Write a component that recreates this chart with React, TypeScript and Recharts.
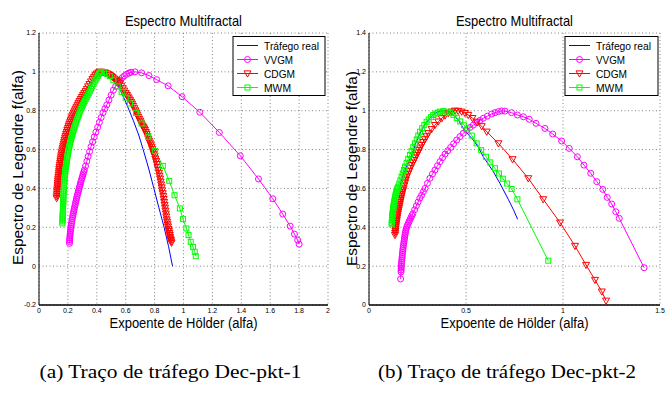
import React from 'react';
import { LineChart, Line, XAxis, YAxis, CartesianGrid } from 'recharts';

type P = [number, number];

// ---------- Panel (a): Dec-pkt-1 ----------
const aReal: P[] = [
  [0.155, 0.4], [0.162, 0.45], [0.17, 0.5], [0.18, 0.55], [0.19, 0.59], [0.2, 0.63], [0.213, 0.67], [0.227, 0.71],
  [0.243, 0.75], [0.262, 0.79], [0.283, 0.83], [0.308, 0.87], [0.335, 0.9], [0.36, 0.94], [0.39, 0.975], [0.42, 0.995],
  [0.44, 1.0], [0.47, 0.995], [0.5, 0.978], [0.526, 0.957], [0.56, 0.91], [0.595, 0.854], [0.625, 0.8], [0.652, 0.751],
  [0.69, 0.675], [0.721, 0.6], [0.76, 0.5], [0.795, 0.4], [0.83, 0.3], [0.866, 0.2], [0.897, 0.1], [0.924, 0.0],
];
const aVVGM: P[] = [
  [0.211, 0.117], [0.2115, 0.126], [0.212, 0.135], [0.213, 0.145], [0.214, 0.155], [0.2155, 0.165], [0.217, 0.175],
  [0.2185, 0.185], [0.22, 0.195], [0.222, 0.205], [0.224, 0.215], [0.226, 0.225], [0.228, 0.235], [0.2305, 0.245],
  [0.233, 0.255], [0.2355, 0.265], [0.238, 0.275], [0.241, 0.285], [0.244, 0.295], [0.247, 0.305], [0.25, 0.315],
  [0.253, 0.325], [0.256, 0.335], [0.259, 0.345], [0.262, 0.355], [0.2655, 0.365], [0.269, 0.375], [0.2725, 0.385],
  [0.276, 0.395], [0.2795, 0.405], [0.283, 0.415], [0.2865, 0.425], [0.29, 0.435], [0.294, 0.445], [0.298, 0.455],
  [0.302, 0.465], [0.306, 0.475], [0.31, 0.485], [0.314, 0.495], [0.322, 0.515],
  [0.331, 0.54], [0.34, 0.565], [0.35, 0.59], [0.36, 0.615], [0.371, 0.64], [0.382, 0.665], [0.394, 0.69],
  [0.406, 0.715], [0.418, 0.74], [0.43, 0.765], [0.443, 0.79], [0.456, 0.81], [0.469, 0.83], [0.484, 0.855],
  [0.499, 0.88], [0.515, 0.906], [0.53, 0.925], [0.545, 0.942], [0.561, 0.957], [0.576, 0.97], [0.591, 0.98],
  [0.607, 0.988], [0.622, 0.994], [0.637, 0.998], [0.664, 1.0], [0.71, 0.995], [0.761, 0.981], [0.814, 0.96],
  [0.894, 0.928], [0.99, 0.872], [1.113, 0.792], [1.248, 0.688], [1.393, 0.568], [1.519, 0.449], [1.618, 0.347],
  [1.687, 0.268], [1.738, 0.206], [1.768, 0.165], [1.79, 0.134], [1.8, 0.113],
];
const aCDGM: P[] = [
  [0.122, 0.35], [0.123, 0.36], [0.124, 0.37], [0.125, 0.38], [0.126, 0.39], [0.127, 0.4],
  [0.128, 0.41], [0.129, 0.42], [0.13, 0.43], [0.131, 0.44], [0.133, 0.45], [0.134, 0.46], [0.136, 0.47], [0.137, 0.48],
  [0.139, 0.49], [0.14, 0.5], [0.142, 0.51], [0.144, 0.52], [0.146, 0.53], [0.148, 0.54], [0.15, 0.55], [0.152, 0.56],
  [0.154, 0.57], [0.157, 0.58], [0.159, 0.59], [0.162, 0.6], [0.165, 0.61], [0.168, 0.62], [0.171, 0.63], [0.174, 0.64],
  [0.177, 0.65], [0.181, 0.66], [0.184, 0.67], [0.188, 0.68], [0.192, 0.69], [0.196, 0.7], [0.2, 0.71], [0.205, 0.72],
  [0.209, 0.73], [0.214, 0.74], [0.219, 0.75], [0.224, 0.76], [0.229, 0.77], [0.235, 0.78], [0.241, 0.79], [0.247, 0.8],
  [0.253, 0.81], [0.26, 0.82], [0.267, 0.83], [0.274, 0.84], [0.281, 0.85], [0.289, 0.86], [0.297, 0.87], [0.305, 0.88],
  [0.313, 0.89], [0.322, 0.9], [0.331, 0.912], [0.34, 0.925], [0.35, 0.937], [0.36, 0.95], [0.37, 0.962], [0.38, 0.972],
  [0.39, 0.982], [0.4, 0.99], [0.41, 0.996], [0.42, 1.0], [0.43, 1.0], [0.44, 0.999], [0.45, 0.997], [0.46, 0.995],
  [0.47, 0.992], [0.48, 0.988], [0.49, 0.983], [0.5, 0.978], [0.51, 0.972], [0.52, 0.965], [0.53, 0.959], [0.54, 0.952],
  [0.55, 0.946], [0.561, 0.94], [0.57, 0.928], [0.58, 0.915], [0.59, 0.903], [0.6, 0.89], [0.608, 0.881], [0.615, 0.872],
  [0.622, 0.863], [0.63, 0.854], [0.638, 0.845], [0.645, 0.835], [0.652, 0.824], [0.66, 0.812], [0.667, 0.801],
  [0.674, 0.79], [0.68, 0.779], [0.687, 0.768], [0.693, 0.758], [0.7, 0.748], [0.705, 0.739], [0.71, 0.73],
  [0.716, 0.722], [0.722, 0.715], [0.728, 0.708], [0.733, 0.7], [0.739, 0.69], [0.745, 0.68], [0.751, 0.668],
  [0.757, 0.655], [0.762, 0.645], [0.768, 0.635], [0.773, 0.625], [0.779, 0.614], [0.784, 0.602], [0.79, 0.59],
  [0.795, 0.578], [0.8, 0.567], [0.805, 0.553], [0.81, 0.54], [0.815, 0.525], [0.82, 0.51], [0.825, 0.495], [0.83, 0.48],
  [0.834, 0.465], [0.838, 0.45], [0.842, 0.435], [0.845, 0.42], [0.849, 0.405], [0.852, 0.39], [0.856, 0.375],
  [0.86, 0.36], [0.863, 0.345], [0.866, 0.33], [0.869, 0.315], [0.872, 0.3], [0.875, 0.285], [0.878, 0.27],
  [0.881, 0.255], [0.884, 0.24], [0.887, 0.228], [0.89, 0.215], [0.893, 0.203], [0.896, 0.19], [0.899, 0.18],
  [0.902, 0.17], [0.905, 0.16], [0.907, 0.15], [0.91, 0.142], [0.912, 0.135], [0.915, 0.127], [0.917, 0.12],
];
const aMWM: P[] = [
  [0.162, 0.22], [0.1625, 0.23], [0.163, 0.24], [0.1635, 0.25], [0.164, 0.26], [0.1645, 0.27], [0.165, 0.28],
  [0.1655, 0.29], [0.166, 0.3], [0.1665, 0.31], [0.167, 0.32], [0.1675, 0.33], [0.168, 0.34], [0.1685, 0.35],
  [0.169, 0.36], [0.1695, 0.37], [0.17, 0.38], [0.171, 0.39], [0.172, 0.4], [0.173, 0.41], [0.174, 0.42], [0.175, 0.43],
  [0.176, 0.44], [0.177, 0.45], [0.178, 0.46], [0.1795, 0.47], [0.181, 0.48], [0.1825, 0.49], [0.184, 0.5], [0.186, 0.51],
  [0.188, 0.52], [0.19, 0.53], [0.192, 0.54], [0.194, 0.55], [0.196, 0.56], [0.198, 0.57], [0.2, 0.58], [0.2025, 0.59],
  [0.205, 0.6], [0.208, 0.61], [0.211, 0.62], [0.214, 0.63], [0.217, 0.64], [0.2205, 0.65], [0.224, 0.66], [0.2275, 0.67],
  [0.231, 0.68], [0.235, 0.69], [0.239, 0.7], [0.243, 0.71], [0.247, 0.72], [0.2515, 0.73], [0.256, 0.74], [0.2605, 0.75],
  [0.265, 0.76], [0.27, 0.77], [0.275, 0.78], [0.2805, 0.79], [0.286, 0.8], [0.292, 0.81], [0.298, 0.82], [0.304, 0.83],
  [0.31, 0.84], [0.3165, 0.85], [0.323, 0.86], [0.33, 0.87], [0.337, 0.88], [0.3445, 0.89], [0.352, 0.9], [0.36, 0.913],
  [0.368, 0.925], [0.376, 0.938], [0.385, 0.95], [0.392, 0.96], [0.4, 0.97], [0.408, 0.98], [0.415, 0.99], [0.422, 0.996],
  [0.43, 1.0], [0.45, 0.998], [0.47, 0.99], [0.49, 0.978], [0.515, 0.957], [0.545, 0.925], [0.572, 0.897], [0.6, 0.867],
  [0.63, 0.837], [0.671, 0.789], [0.71, 0.734], [0.756, 0.666], [0.804, 0.593], [0.857, 0.516], [0.901, 0.439],
  [0.938, 0.365], [0.975, 0.297], [0.997, 0.242], [1.02, 0.194], [1.035, 0.16], [1.05, 0.125], [1.066, 0.099],
  [1.078, 0.074], [1.085, 0.051],
];

// ---------- Panel (b): Dec-pkt-2 ----------
const bReal: P[] = [
  [0.125, 0.42], [0.13, 0.46], [0.137, 0.5], [0.145, 0.545], [0.155, 0.59], [0.167, 0.64], [0.18, 0.68], [0.194, 0.715],
  [0.208, 0.745], [0.22, 0.77], [0.24, 0.83], [0.263, 0.884], [0.29, 0.93], [0.314, 0.961], [0.335, 0.982], [0.357, 0.995],
  [0.38, 1.0], [0.41, 0.995], [0.44, 0.975], [0.465, 0.945], [0.486, 0.909], [0.51, 0.88], [0.538, 0.849], [0.565, 0.81],
  [0.589, 0.763], [0.615, 0.725], [0.641, 0.686], [0.675, 0.626], [0.718, 0.544], [0.745, 0.49], [0.766, 0.441],
];
const bVVGM: P[] = [
  [0.163, 0.134], [0.165, 0.17], [0.1655, 0.18], [0.166, 0.19], [0.1665, 0.2], [0.167, 0.21], [0.168, 0.22],
  [0.169, 0.23], [0.17, 0.24], [0.171, 0.25], [0.172, 0.26], [0.173, 0.27], [0.174, 0.28], [0.175, 0.29], [0.1765, 0.3],
  [0.178, 0.31], [0.1795, 0.32], [0.181, 0.33], [0.1825, 0.34], [0.184, 0.35], [0.1855, 0.36], [0.187, 0.37],
  [0.189, 0.38], [0.191, 0.39], [0.1945, 0.4], [0.198, 0.41], [0.2025, 0.42], [0.207, 0.43], [0.2115, 0.44], [0.216, 0.45],
  [0.221, 0.46], [0.226, 0.47], [0.235, 0.49], [0.244, 0.51], [0.253, 0.53], [0.262, 0.55], [0.271, 0.565], [0.28, 0.583],
  [0.289, 0.6], [0.301, 0.626], [0.314, 0.652], [0.327, 0.674], [0.34, 0.695], [0.353, 0.717], [0.366, 0.738],
  [0.379, 0.758], [0.392, 0.777], [0.406, 0.794], [0.421, 0.811], [0.436, 0.83], [0.452, 0.849], [0.469, 0.867],
  [0.486, 0.884], [0.503, 0.899], [0.521, 0.914], [0.538, 0.926], [0.555, 0.938], [0.572, 0.95], [0.589, 0.961],
  [0.61, 0.972], [0.632, 0.983], [0.65, 0.99], [0.667, 0.995], [0.684, 0.999], [0.701, 0.998], [0.735, 0.99],
  [0.765, 0.978], [0.796, 0.969], [0.826, 0.956], [0.861, 0.935], [0.907, 0.909], [0.947, 0.88], [0.993, 0.844],
  [1.032, 0.806], [1.074, 0.763], [1.108, 0.72], [1.143, 0.678], [1.174, 0.635], [1.205, 0.595], [1.228, 0.554],
  [1.251, 0.52], [1.272, 0.48], [1.29, 0.446], [1.418, 0.192],
];
const bCDGM: P[] = [
  [0.134, 0.36], [0.135, 0.37], [0.136, 0.38], [0.137, 0.39], [0.138, 0.4], [0.1395, 0.41], [0.141, 0.42], [0.1425, 0.43],
  [0.144, 0.44], [0.1455, 0.45], [0.147, 0.46], [0.149, 0.47], [0.151, 0.48], [0.153, 0.49], [0.155, 0.5], [0.157, 0.51],
  [0.159, 0.52], [0.161, 0.53], [0.163, 0.54], [0.165, 0.55], [0.167, 0.56], [0.1695, 0.57], [0.172, 0.58], [0.175, 0.59],
  [0.178, 0.6], [0.182, 0.615], [0.186, 0.63], [0.19, 0.645], [0.194, 0.66], [0.2005, 0.675], [0.207, 0.69],
  [0.2135, 0.705], [0.22, 0.72], [0.2265, 0.733], [0.233, 0.746], [0.2395, 0.759], [0.246, 0.772], [0.252, 0.785],
  [0.258, 0.798], [0.2645, 0.81], [0.271, 0.823], [0.2795, 0.838], [0.288, 0.853], [0.297, 0.868], [0.306, 0.884],
  [0.323, 0.905], [0.34, 0.926], [0.357, 0.944], [0.375, 0.961], [0.392, 0.975], [0.409, 0.987], [0.426, 0.995],
  [0.443, 1.0], [0.46, 0.999], [0.478, 0.995], [0.495, 0.988], [0.512, 0.978], [0.533, 0.962], [0.555, 0.943],
  [0.581, 0.92], [0.607, 0.892], [0.667, 0.832], [0.74, 0.75], [0.821, 0.652], [0.898, 0.544], [0.985, 0.424],
  [1.062, 0.304], [1.119, 0.206], [1.165, 0.129], [1.2, 0.069], [1.222, 0.022],
];
const bMWM: P[] = [
  [0.117, 0.415], [0.1175, 0.4225], [0.118, 0.43], [0.1185, 0.4375], [0.119, 0.445], [0.1195, 0.4525], [0.12, 0.46],
  [0.121, 0.4675], [0.122, 0.475], [0.123, 0.4825], [0.124, 0.49], [0.125, 0.4975], [0.126, 0.505], [0.127, 0.5125],
  [0.128, 0.52], [0.1295, 0.5275], [0.131, 0.535], [0.1325, 0.5425], [0.134, 0.55], [0.1355, 0.5575], [0.137, 0.565],
  [0.1385, 0.5725], [0.14, 0.58], [0.1425, 0.5875], [0.145, 0.595], [0.148, 0.602], [0.151, 0.609],
  [0.156, 0.625], [0.162, 0.642], [0.168, 0.66], [0.174, 0.677], [0.18, 0.695], [0.186, 0.712], [0.194, 0.732],
  [0.202, 0.752], [0.211, 0.772], [0.22, 0.792], [0.228, 0.812], [0.237, 0.832], [0.246, 0.852], [0.254, 0.872],
  [0.263, 0.892], [0.274, 0.91], [0.285, 0.927], [0.297, 0.943], [0.308, 0.955], [0.32, 0.967], [0.331, 0.978],
  [0.343, 0.985], [0.354, 0.99], [0.366, 0.995], [0.383, 0.998], [0.4, 0.995], [0.418, 0.988], [0.435, 0.978],
  [0.453, 0.962], [0.47, 0.945], [0.49, 0.925], [0.507, 0.909], [0.53, 0.872], [0.555, 0.832], [0.578, 0.797],
  [0.603, 0.763], [0.625, 0.734], [0.649, 0.704], [0.67, 0.677], [0.69, 0.65], [0.712, 0.625], [0.735, 0.597],
  [0.765, 0.544], [0.924, 0.228],
];

// ---------- Axes / labels ----------
const aXTicks = [0, 0.2, 0.4, 0.6, 0.8, 1, 1.2, 1.4, 1.6, 1.8, 2];
const aYTicks = [-0.2, 0, 0.2, 0.4, 0.6, 0.8, 1, 1.2];
const bXTicks = [0, 0.5, 1, 1.5];
const bYTicks = [0, 0.2, 0.4, 0.6, 0.8, 1, 1.2, 1.4];

const seriesNames = ['Tráfego real', 'VVGM', 'CDGM', 'MWM'];
const seriesColors = ['#0000ff', '#ff00ff', '#ff0000', '#00ff00'];
const seriesMarkers = ['', 'o', 'v', 's'];

const titleText = 'Espectro Multifractal';
const xLabelText = 'Expoente de Hölder (alfa)';
const yLabelText = 'Espectro de Legendre f(alfa)';
const captionA = '(a) Traço de tráfego Dec-pkt-1';
const captionB = '(b) Traço de tráfego Dec-pkt-2';

const SANS = '"Liberation Sans", Arial, Helvetica, sans-serif';
const SERIF = '"Liberation Serif", "Times New Roman", serif';

const toPts = (arr: P[]) => arr.map(([x, y]) => ({ x, y }));

function marker(kind: string, color: string, cx: number, cy: number, key: string) {
  if (cx == null || cy == null || isNaN(cx) || isNaN(cy)) return <g key={key} />;
  if (kind === 'o')
    return <circle key={key} cx={cx} cy={cy} r={3} fill="none" stroke={color} strokeWidth={1} />;
  if (kind === 'v')
    return (
      <path key={key} d={`M${cx - 3.5},${cy - 2.6}L${cx + 3.5},${cy - 2.6}L${cx},${cy + 3.6}Z`}
        fill="none" stroke={color} strokeWidth={1} />
    );
  if (kind === 's')
    return <rect key={key} x={cx - 2.5} y={cy - 2.5} width={5} height={5} fill="none" stroke={color} strokeWidth={1} />;
  return <g key={key} />;
}

const fmt = (v: number) => String(v);

type PanelProps = {
  left: number;
  series: P[][];
  xDomain: [number, number];
  yDomain: [number, number];
  xTicks: number[];
  yTicks: number[];
  marginRight: number;
};

const PW = 335;
const PH = 340;
const M_TOP = 33;
const M_LEFT = 9;
const Y_W = 30;
const X_H = 20;
const M_BOTTOM = 15;

function Panel({ left, series, xDomain, yDomain, xTicks, yTicks, marginRight }: PanelProps) {
  const tickStyle = { fontSize: 7, fill: '#000', fontFamily: SANS };
  return (
    <div style={{ position: 'absolute', left, top: 0, width: PW, height: PH }}>
      <LineChart width={PW} height={PH} margin={{ top: M_TOP, right: marginRight, bottom: M_BOTTOM, left: M_LEFT }}>
        <CartesianGrid xAxisId="b" yAxisId="l" stroke="#666" strokeWidth={0.8} strokeDasharray="1 2.5" />
        <XAxis xAxisId="b" type="number" dataKey="x" domain={xDomain} ticks={xTicks} height={X_H}
          allowDataOverflow tickFormatter={fmt} tick={tickStyle} tickLine={false} tickSize={2} tickMargin={1}
          axisLine={{ stroke: '#000', strokeWidth: 1.4 }} interval={0} />
        <XAxis xAxisId="t" orientation="top" type="number" dataKey="x" domain={xDomain} height={0}
          allowDataOverflow tick={false} tickLine={false} axisLine={{ stroke: '#000', strokeWidth: 1 }} />
        <YAxis yAxisId="l" type="number" dataKey="y" domain={yDomain} ticks={yTicks} width={Y_W}
          allowDataOverflow tickFormatter={fmt} tick={tickStyle} tickLine={false} tickSize={2} tickMargin={1}
          axisLine={{ stroke: '#000', strokeWidth: 1 }} interval={0} />
        <YAxis yAxisId="r" orientation="right" type="number" dataKey="y" domain={yDomain} width={0}
          allowDataOverflow tick={false} tickLine={false} axisLine={{ stroke: '#000', strokeWidth: 1 }} />
        {series.map((d, i) => (
          <Line key={seriesNames[i]} xAxisId="b" yAxisId="l" data={toPts(d)} dataKey="y" name={seriesNames[i]}
            type="linear" stroke={seriesColors[i]} strokeWidth={1} isAnimationActive={false} activeDot={false}
            dot={seriesMarkers[i] ? (p: any) => marker(seriesMarkers[i], seriesColors[i], p.cx, p.cy, `${i}-${p.index}`) : false} />
        ))}
      </LineChart>
    </div>
  );
}

function LegendBox({ x, y, w }: { x: number; y: number; w: number }) {
  const lens = [55, 29, 31, 27];
  return (
    <g>
      <rect x={x} y={y} width={w} height={59} fill="#fff" stroke="#000" strokeWidth={1} />
      {seriesNames.map((n, i) => {
        const cy = y + 9 + i * 14;
        return (
          <g key={n}>
            <line x1={x + 4} x2={x + 25} y1={cy} y2={cy} stroke={seriesColors[i]} strokeWidth={1} />
            {seriesMarkers[i] ? marker(seriesMarkers[i], seriesColors[i], x + 14.5, cy, `lg${i}`) : null}
            <text x={x + 31} y={cy + 4} fontSize={11.5} fontFamily={SANS} fill="#000"
              textLength={lens[i]} lengthAdjust="spacingAndGlyphs">{n}</text>
          </g>
        );
      })}
    </g>
  );
}

export default function App() {
  const aCenter = 183.5;
  const bCenter = 514.5;
  return (
    <div style={{ position: 'absolute', left: 0, top: 0, width: 665, height: 394, background: '#fff', overflow: 'hidden' }}>
      <Panel left={0} series={[aReal, aVVGM, aCDGM, aMWM]} xDomain={[0, 2]} yDomain={[-0.2, 1.2]}
        xTicks={aXTicks} yTicks={aYTicks} marginRight={7} />
      <Panel left={330} series={[bReal, bVVGM, bCDGM, bMWM]} xDomain={[0, 1.5]} yDomain={[0, 1.4]}
        xTicks={bXTicks} yTicks={bYTicks} marginRight={5} />
      <svg width={665} height={394} style={{ position: 'absolute', left: 0, top: 0, pointerEvents: 'none' }}>
        <text x={aCenter} y={26} textAnchor="middle" fontSize={14.5} fontFamily={SANS}
          textLength={117} lengthAdjust="spacingAndGlyphs">{titleText}</text>
        <text x={bCenter} y={26} textAnchor="middle" fontSize={14.5} fontFamily={SANS}
          textLength={117} lengthAdjust="spacingAndGlyphs">{titleText}</text>
        <text x={aCenter} y={328} textAnchor="middle" fontSize={14} fontFamily={SANS}
          textLength={148} lengthAdjust="spacingAndGlyphs">{xLabelText}</text>
        <text x={bCenter} y={328} textAnchor="middle" fontSize={14} fontFamily={SANS}
          textLength={148} lengthAdjust="spacingAndGlyphs">{xLabelText}</text>
        <text transform="translate(22.5,167.5) rotate(-90)" textAnchor="middle" fontSize={14} fontFamily={SANS}
          textLength={195} lengthAdjust="spacingAndGlyphs">{yLabelText}</text>
        <text transform="translate(356.5,168.5) rotate(-90)" textAnchor="middle" fontSize={14} fontFamily={SANS}
          textLength={195} lengthAdjust="spacingAndGlyphs">{yLabelText}</text>
        <LegendBox x={233} y={36.5} w={92} />
        <LegendBox x={565} y={36.5} w={93} />
        <text x={170.5} y={378} textAnchor="middle" fontSize={19} fontFamily={SERIF}
          textLength={262} lengthAdjust="spacingAndGlyphs">{captionA}</text>
        <text x={507} y={378} textAnchor="middle" fontSize={19} fontFamily={SERIF}
          textLength={258} lengthAdjust="spacingAndGlyphs">{captionB}</text>
      </svg>
    </div>
  );
}
